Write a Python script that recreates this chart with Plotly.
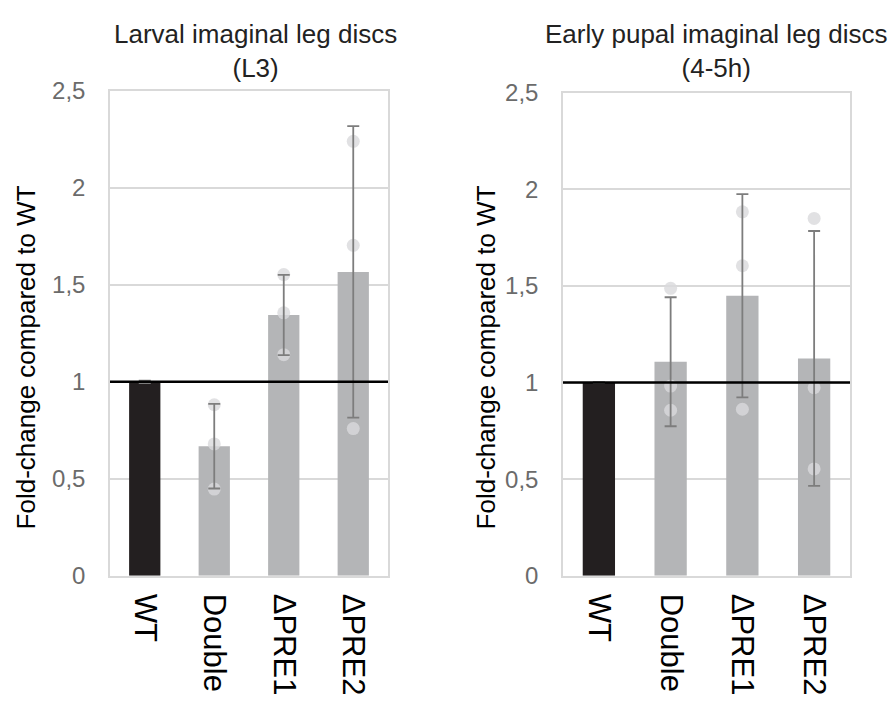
import plotly.graph_objects as go

# Genotypes on the x axis
genotypes = ["WT", "Double", "ΔPRE1", "ΔPRE2"]

# Larval imaginal leg discs (L3): means, standard deviations and replicates
l3_mean = [1.00, 0.668, 1.345, 1.567]
l3_sd = [0.006, 0.218, 0.207, 0.752]
l3_reps = [
    [],
    [0.882, 0.680, 0.447],
    [1.553, 1.356, 1.140],
    [2.240, 1.704, 0.759],
]

# Early pupal imaginal leg discs (4-5h)
pp_mean = [1.00, 1.108, 1.450, 1.125]
pp_sd = [0.003, 0.334, 0.526, 0.660]
pp_reps = [
    [],
    [1.488, 0.982, 0.857],
    [1.884, 1.605, 0.862],
    [1.850, 0.974, 0.553],
]

tick_vals = [0, 0.5, 1, 1.5, 2, 2.5]
tick_text = ["0", "0,5", "1", "1,5", "2", "2,5"]

panel_titles = ["Larval imaginal leg discs<br>(L3)", "Early pupal imaginal leg discs<br>(4-5h)"]
y_title = "Fold-change compared to WT"

FONT = "Liberation Sans, Arial, sans-serif"
BAR_COLORS = ["#231f20", "#b4b5b7", "#b4b5b7", "#b4b5b7"]
GRID = "#d9d9d9"
W, H = 893, 709

fig = go.Figure()

panels = [
    ("x", "y", l3_mean, l3_sd, l3_reps),
    ("x2", "y2", pp_mean, pp_sd, pp_reps),
]

for xa, ya, means, sds, reps in panels:
    fig.add_trace(go.Bar(
        x=genotypes, y=means, marker=dict(color=BAR_COLORS, line=dict(width=0)),
        xaxis=xa, yaxis=ya, showlegend=False, hoverinfo="skip",
    ))
    # individual replicate values
    px, py = [], []
    for g, vals in zip(genotypes, reps):
        for v in vals:
            px.append(g)
            py.append(v)
    fig.add_trace(go.Scatter(
        x=px, y=py, mode="markers",
        marker=dict(size=13, color="rgba(218,218,220,0.8)", line=dict(width=0)),
        xaxis=xa, yaxis=ya, showlegend=False, hoverinfo="skip",
    ))
    # standard deviation whiskers
    fig.add_trace(go.Scatter(
        x=genotypes, y=means, mode="markers",
        marker=dict(size=1, color="rgba(0,0,0,0)"),
        error_y=dict(type="data", array=sds, visible=True,
                     color="#7d7d7d", thickness=1.8, width=6),
        xaxis=xa, yaxis=ya, showlegend=False, hoverinfo="skip",
    ))

x_common = dict(
    type="category", showgrid=False, showline=True, mirror=True,
    linecolor=GRID, linewidth=1.5, ticks="", tickangle=90,
    tickfont=dict(family=FONT, size=31, color="#000000"),
    ticklabelstandoff=10, fixedrange=True,
)
y_common = dict(
    range=[0, 2.5], tickvals=tick_vals, ticktext=tick_text,
    showgrid=True, gridcolor=GRID, gridwidth=1.5,
    showline=True, mirror=True, linecolor=GRID, linewidth=1.5,
    zeroline=False, ticks="",
    tickfont=dict(family=FONT, size=24, color="#6b6b6b"),
    ticklabelstandoff=18, fixedrange=True,
)

fig.update_layout(
    width=W, height=H,
    margin=dict(l=0, r=0, t=0, b=0),
    paper_bgcolor="white", plot_bgcolor="white",
    bargap=0.55,
    xaxis=dict(domain=[110 / W, 388 / W], **x_common),
    yaxis=dict(domain=[1 - 584 / H, 1 - 80 / H], anchor="x", **y_common),
    xaxis2=dict(domain=[563 / W, 850 / W], anchor="y2", **x_common),
    yaxis2=dict(domain=[1 - 584 / H, 1 - 82 / H], anchor="x2", **y_common),
    font=dict(family=FONT),
)

# reference line at fold-change = 1
for xr, yr in [("x domain", "y"), ("x2 domain", "y2")]:
    fig.add_shape(type="line", xref=xr, yref=yr, x0=0, x1=1, y0=1, y1=1,
                  line=dict(color="#000000", width=2.5), layer="above")

# panel titles
for cx, text in [(255 / W, panel_titles[0]), (716 / W, panel_titles[1])]:
    fig.add_annotation(x=cx, y=1 - 3 / H, xref="paper", yref="paper",
                       xanchor="center", yanchor="top", showarrow=False,
                       text=text, font=dict(family=FONT, size=26, color="#222222"))

# y axis titles
for cx in [26 / W, 486 / W]:
    fig.add_annotation(x=cx, y=1 - 357 / H, xref="paper", yref="paper",
                       xanchor="center", yanchor="middle", showarrow=False,
                       textangle=-90, text=y_title,
                       font=dict(family=FONT, size=26, color="#000000"))

fig.write_html("out.html")
